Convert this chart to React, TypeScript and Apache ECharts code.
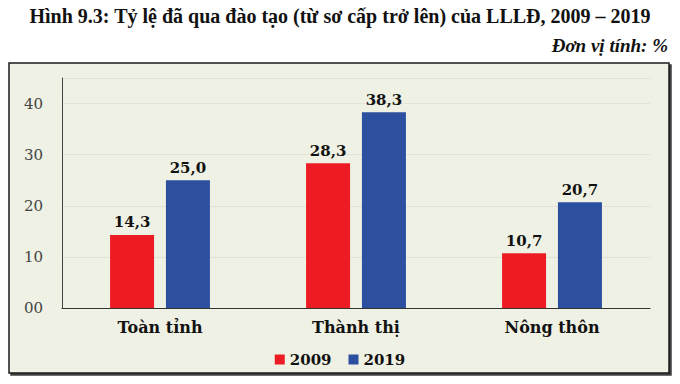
import React, { useEffect, useRef } from "react";
import * as echarts from "echarts";

const categories = ["Toàn tỉnh", "Thành thị", "Nông thôn"];
const series2009 = [14.3, 28.3, 10.7];
const series2019 = [25.0, 38.3, 20.7];
const seriesNames = ["2009", "2019"];
const titleText = "Hình 9.3: Tỷ lệ đã qua đào tạo (từ sơ cấp trở lên) của LLLĐ, 2009 – 2019";
const unitText = "Đơn vị tính: %";

const RED = "#ED1C24";
const BLUE = "#2D4F9F";
const LABEL_FONT = "'DejaVu Serif', serif";

export default function App() {
  const ref = useRef<HTMLDivElement>(null);
  useEffect(() => {
    if (!ref.current) return;
    const chart = echarts.init(ref.current, null, { renderer: "svg" });
    const fmt = (v: number) => v.toFixed(1).replace(".", ",");
    const barLabel = {
      show: true,
      position: "top",
      distance: 5,
      formatter: (p: any) => fmt(p.value),
      fontFamily: LABEL_FONT,
      fontWeight: "bold",
      fontSize: 15,
      color: "#111",
    };
    chart.setOption({
      animation: false,
      backgroundColor: "#ffffff",
      graphic: [
        {
          type: "rect",
          shape: { x: 9, y: 63, width: 660, height: 310 },
          style: {
            fill: "#EEF1E3",
            stroke: "#1a1a1a",
            lineWidth: 1.5,
            shadowColor: "rgba(0,0,0,0.75)",
            shadowOffsetX: 2,
            shadowOffsetY: 2,
            shadowBlur: 1,
          },
          z: -10,
          silent: true,
        },
        {
          type: "text",
          x: 340,
          y: 16,
          style: {
            text: titleText,
            fontFamily: "'Liberation Serif', 'Times New Roman', serif",
            fontWeight: "bold",
            fontSize: 20,
            fill: "#111",
            textAlign: "center",
            textVerticalAlign: "middle",
          },
        },
        {
          type: "text",
          x: 668,
          y: 45,
          style: {
            text: unitText,
            fontFamily: "'Liberation Serif', 'Times New Roman', serif",
            fontWeight: "bold",
            fontStyle: "italic",
            fontSize: 19,
            fill: "#111",
            textAlign: "right",
            textVerticalAlign: "middle",
          },
        },
      ],
      grid: { left: 62, right: 30, top: 78, bottom: 76, containLabel: false },
      legend: {
        data: seriesNames,
        top: 347,
        left: "center",
        itemWidth: 10,
        itemHeight: 10,
        itemGap: 17,
        icon: "rect",
        textStyle: {
          fontFamily: LABEL_FONT,
          fontWeight: "bold",
          fontSize: 15,
          color: "#111",
        },
      },
      xAxis: {
        type: "category",
        data: categories,
        axisLine: { show: true, lineStyle: { color: "#333", width: 1.2 } },
        axisTick: { show: false },
        axisLabel: {
          fontFamily: LABEL_FONT,
          fontWeight: "bold",
          fontSize: 16,
          color: "#111",
          margin: 11,
        },
      },
      yAxis: {
        type: "value",
        min: 0,
        max: 45,
        interval: 10,
        axisLine: { show: true, lineStyle: { color: "#444", width: 1 } },
        axisTick: { show: false },
        splitLine: { show: true, lineStyle: { color: "#E1E4D5", width: 1 } },
        axisLabel: {
          fontFamily: LABEL_FONT,
          fontSize: 15,
          color: "#444",
          margin: 19,
          showMaxLabel: false,
          formatter: (v: number) => (v === 0 ? "00" : v === 45 ? "" : String(v)),
        },
      },
      series: [
        {
          name: seriesNames[0],
          type: "bar",
          data: series2009,
          barWidth: 44,
          barGap: "27%",
          itemStyle: { color: RED },
          label: barLabel,
        },
        {
          name: seriesNames[1],
          type: "bar",
          data: series2019,
          barWidth: 44,
          barGap: "27%",
          itemStyle: { color: BLUE },
          label: barLabel,
        },
      ],
    });
    return () => chart.dispose();
  }, []);
  return (
    <div
      ref={ref}
      style={{ position: "absolute", left: 0, top: 0, width: 680, height: 384 }}
    />
  );
}
